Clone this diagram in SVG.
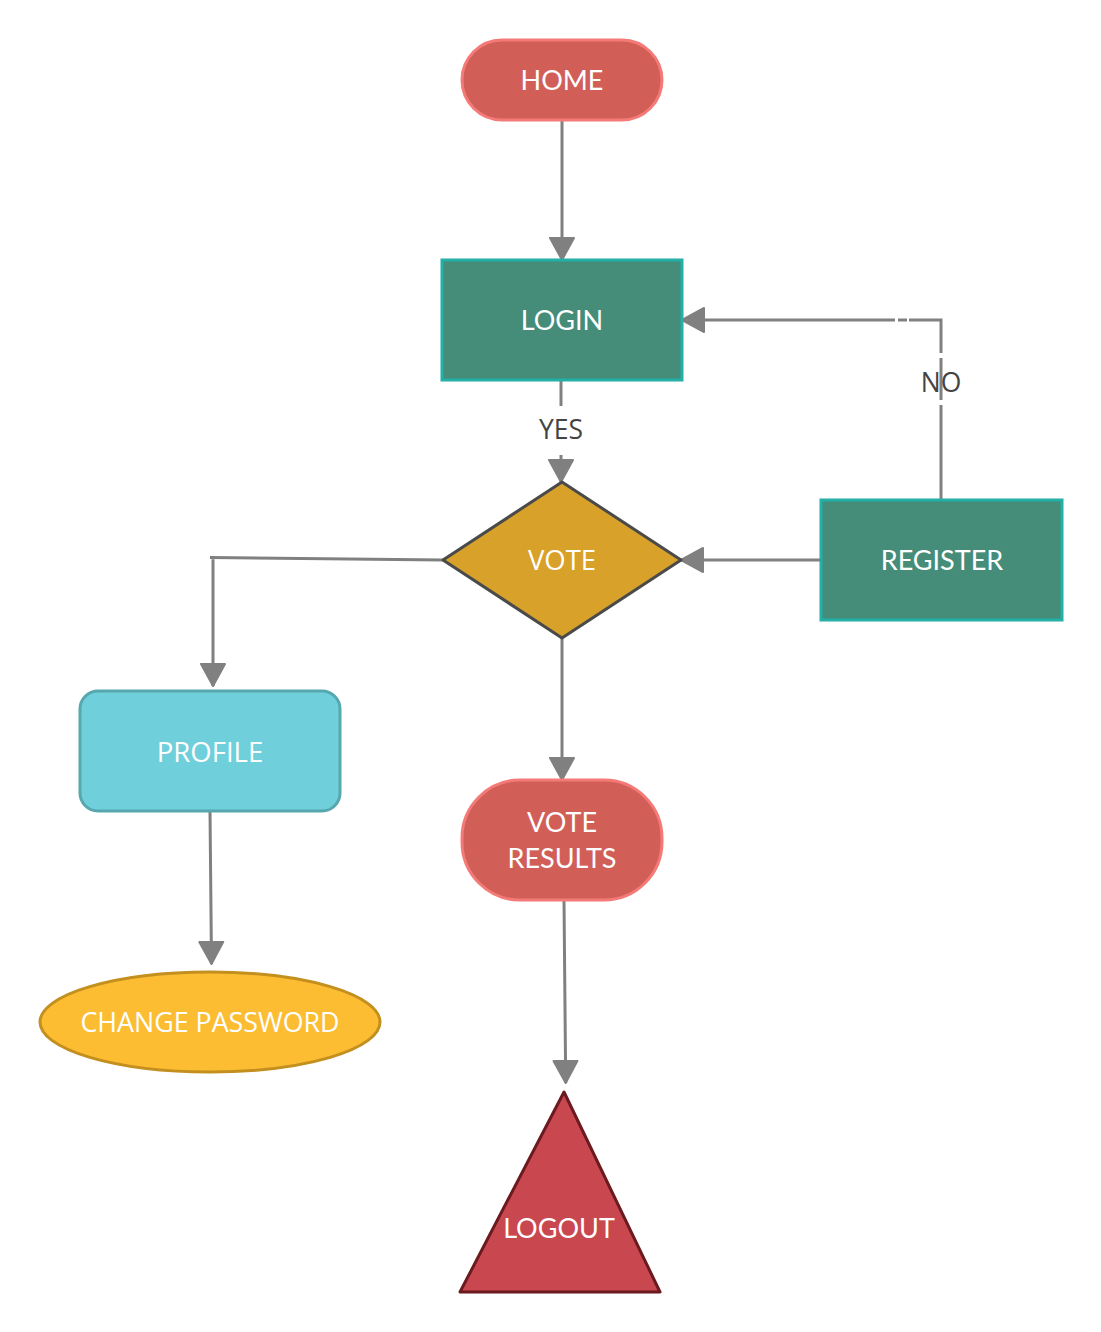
<svg xmlns="http://www.w3.org/2000/svg" width="1101" height="1332" viewBox="0 0 1101 1332">
<style>
.lato{font-family:Lato,"Liberation Sans",sans-serif;font-size:27px;fill:#ffffff;text-anchor:middle}
.open{font-family:"Open Sans","Liberation Sans",sans-serif;font-size:27.5px;fill:#ffffff;text-anchor:middle}
.lbl{font-family:"Open Sans","Liberation Sans",sans-serif;font-size:26.5px;fill:#444444;text-anchor:middle}
.conn{fill:none;stroke:#808080;stroke-width:3}
</style>
<defs>
<marker id="arr" markerUnits="userSpaceOnUse" markerWidth="28" markerHeight="28" viewBox="0 0 28 28" refX="24" refY="14" orient="auto">
<path d="M2,2 L24,14 L2,26 Z" fill="#808080" stroke="#808080" stroke-width="2" stroke-linejoin="round"/>
</marker>
</defs>
<rect width="1101" height="1332" fill="#ffffff"/>
<g id="connectors">
<path class="conn" d="M562,120 L562,260" marker-end="url(#arr)"/>
<path class="conn" d="M561,380 L561,406"/>
<path class="conn" d="M561,455 L561,482" marker-end="url(#arr)"/>
<path class="conn" d="M941,500 L941,405"/>
<path class="conn" d="M941,400 L941,358"/>
<path class="conn" d="M941,353 L941,320 L909,320"/>
<path class="conn" d="M907,320 L898,320"/>
<path class="conn" d="M895,320 L682,320" marker-end="url(#arr)"/>
<text class="lbl" x="561" y="439">YES</text>
<text class="lbl" x="941" y="392">NO</text>
<path class="conn" d="M821,560 L681,560" marker-end="url(#arr)"/>
<path class="conn" d="M443,560 L210,557.5 M213,557.5 L213,686" marker-end="url(#arr)"/>
<path class="conn" d="M210,811 L211.5,964" marker-end="url(#arr)"/>
<path class="conn" d="M562,638 L562,780" marker-end="url(#arr)"/>
<path class="conn" d="M564,900 L565.7,1083" marker-end="url(#arr)"/>
</g>
<g id="home">
<rect x="462" y="40" width="200" height="80" rx="40" ry="40" fill="#d25e58" stroke="#f47a78" stroke-width="3"/>
<text class="lato" x="562" y="90">HOME</text>
</g>
<g id="login">
<rect x="442" y="260" width="240" height="120" fill="#458c79" stroke="#22b0a8" stroke-width="3"/>
<text class="lato" x="562" y="330">LOGIN</text>
</g>
<g id="vote">
<polygon points="562,482 681,560 562,638 443,560" fill="#d8a12a" stroke="#4a4a4a" stroke-width="3" stroke-linejoin="round"/>
<text class="open" x="562" y="570">VOTE</text>
</g>
<g id="register">
<rect x="821" y="500" width="241" height="120" fill="#458c79" stroke="#22b0a8" stroke-width="3"/>
<text class="lato" x="942" y="570">REGISTER</text>
</g>
<g id="profile">
<rect x="80" y="691" width="260" height="120" rx="18" ry="18" fill="#6fcfdb" stroke="#56a8ae" stroke-width="3"/>
<text class="open" x="210" y="762">PROFILE</text>
</g>
<g id="vote-results">
<rect x="462" y="780" width="200" height="120" rx="58" ry="58" fill="#d25e58" stroke="#f47a78" stroke-width="3"/>
<text class="lato" x="562" y="832">VOTE</text>
<text class="lato" x="562" y="868">RESULTS</text>
</g>
<g id="change-password">
<ellipse cx="210" cy="1022" rx="170" ry="50" fill="#fcbd32" stroke="#c38f1e" stroke-width="3"/>
<text class="open" x="210" y="1032" style="font-size:26.8px">CHANGE PASSWORD</text>
</g>
<g id="logout">
<polygon points="564,1092 660,1292 460,1292" fill="#c9474f" stroke="#6b1a1f" stroke-width="3" stroke-linejoin="round"/>
<text class="lato" x="559" y="1238">LOGOUT</text>
</g>
</svg>
